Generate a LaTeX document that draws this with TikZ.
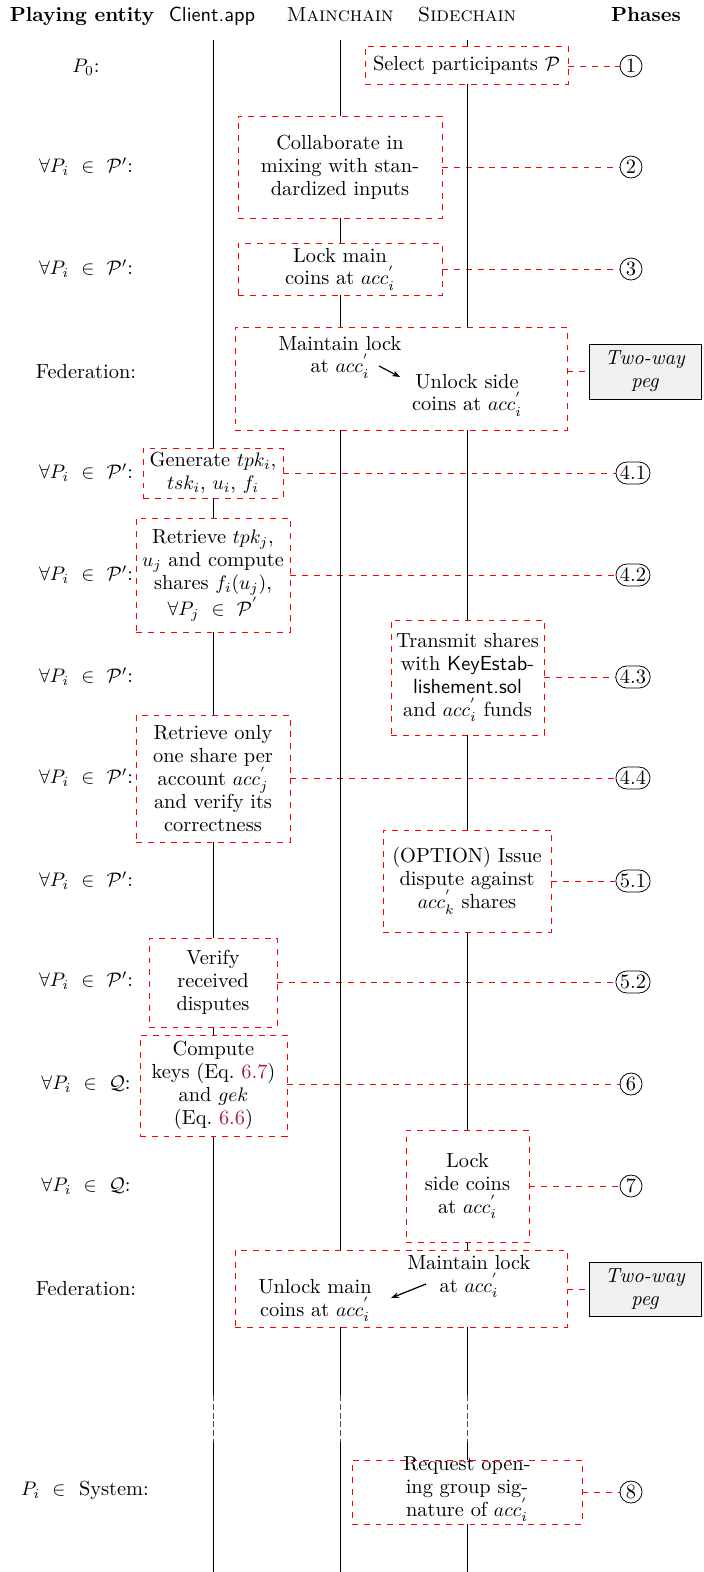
\documentclass[tikz,border=0pt]{standalone}
\usetikzlibrary{shapes.misc,arrows.meta}
\definecolor{refred}{rgb}{0.63,0.13,0.25}
\definecolor{peggray}{rgb}{0.94,0.94,0.94}
\newcommand\basefont{\fontsize{10.4pt}{11.7pt}\selectfont}
\newcommand\accp[1]{acc^{'}_{#1}}
\pgfdeclarelayer{bg}
\pgfdeclarelayer{mid}
\pgfsetlayers{bg,mid,main}
\begin{document}
\begin{tikzpicture}[x=0.5102pt,y=-0.5102pt, font=\basefont,
  lane/.style={line width=0.5pt},
  act/.style={draw=red, dashed, fill=white, align=center, inner sep=1pt, line width=0.4pt},
  link/.style={draw=red, dashed, line width=0.4pt},
  ph/.style={circle, draw, inner sep=0.5pt, minimum size=22*0.5102pt, line width=0.4pt},
  phl/.style={rounded rectangle, draw, inner sep=0.8pt, minimum height=22*0.5102pt, line width=0.4pt},
  peg/.style={draw, fill=peggray, align=center, font=\basefont\itshape, line width=0.5pt},
  who/.style={anchor=center},
  txt/.style={align=center, inner sep=0pt},
  sz/.style 2 args={minimum width=#1*0.5102pt, minimum height=#2*0.5102pt}]
\useasboundingbox (0,0) rectangle (703,1572);

% headers
\node[font=\basefont\bfseries, anchor=base] (hPE) at (82,21) {Playing entity};
\node[font=\basefont\sffamily, anchor=base] (hC) at (212,21) {Client.app};
\node[font=\basefont\scshape, anchor=base] (hM) at (340,21) {Mainchain};
\node[font=\basefont\scshape, anchor=base] (hS) at (467,21) {Sidechain};
\node[font=\basefont\bfseries, anchor=base] (hP) at (646,21) {Phases};

% entities
\node[who] (w1) at (86,67) {$P_0$:};
\node[who] (w2) at (86,167) {$\forall P_i~\in~\mathcal{P}'$:};
\node[who] (w3) at (86,269) {$\forall P_i~\in~\mathcal{P}'$:};
\node[who] (w4) at (86,372) {Federation:};
\node[who] (w5) at (86,473) {$\forall P_i~\in~\mathcal{P}'$:};
\node[who] (w6) at (86,575) {$\forall P_i~\in~\mathcal{P}'$:};
\node[who] (w7) at (86,677) {$\forall P_i~\in~\mathcal{P}'$:};
\node[who] (w8) at (86,778) {$\forall P_i~\in~\mathcal{P}'$:};
\node[who] (w9) at (86,881) {$\forall P_i~\in~\mathcal{P}'$:};
\node[who] (w10) at (86,981) {$\forall P_i~\in~\mathcal{P}'$:};
\node[who] (w11) at (86,1084) {$\forall P_i~\in~\mathcal{Q}$:};
\node[who] (w12) at (86,1186) {$\forall P_i~\in~\mathcal{Q}$:};
\node[who] (w13) at (86,1289) {Federation:};
\node[who] (w14) at (85,1490) {$P_i~\in~$ System:};

% boxes
\node[act, sz={203}{38}] (b1) at (466.5,65) {Select participants $\mathcal{P}$};
\node[act, sz={204}{102}] (b2) at (340,167) {Collaborate in\\mixing with stan-\\dardized inputs};
\node[act, sz={204}{52}] (b3) at (340,269) {Lock main\\coins at $\accp{i}$};
\node[act, sz={332}{103}] (f1) at (401,378.5) {};
\node[txt] (f1a) at (340,357) {Maintain lock\\at $\accp{i}$};
\node[txt] (f1b) at (467,395) {Unlock side\\coins at $\accp{i}$};
\coordinate (f1s) at (379,366);
\coordinate (f1e) at (400,377);
\node[act, sz={140}{50}] (b5) at (213,473) {Generate $tpk_i$,\\$tsk_i$, $u_i$, $f_i$};
\node[act, sz={154}{114}] (b6) at (213,575) {Retrieve $tpk_j$,\\$u_j$ and compute\\shares $f_i(u_j)$,\\$\forall P_j~\in~\mathcal{P}^{'}$};
\node[act, sz={153}{115}] (b7) at (467.5,677.5) {Transmit shares\\with {\sffamily KeyEstab-}\\{\sffamily lishement.sol}\\and $\accp{i}$ funds};
\node[act, sz={154}{127}] (b8) at (213,778.5) {Retrieve only\\one share per\\account $\accp{j}$\\and verify its\\correctness};
\node[act, sz={168}{102}] (b9) at (467,881) {(OPTION) Issue\\dispute against\\$\accp{k}$ shares};
\node[act, sz={128}{89}] (b10) at (213,982.5) {Verify\\received\\disputes};
\node[act, sz={147}{101}] (b11) at (213.5,1085.5) {Compute\\keys (Eq.~\textcolor{refred}{6.7})\\and $gek$\\(Eq.~\textcolor{refred}{6.6})};
\node[act, sz={123}{112}] (b12) at (467.5,1186) {Lock\\side coins\\at $\accp{i}$};
\node[act, sz={332}{77}] (f2) at (401,1288.5) {};
\node[txt] (f2a) at (315,1300) {Unlock main\\coins at $\accp{i}$};
\node[txt] (f2b) at (469,1276) {Maintain lock\\at $\accp{i}$};
\coordinate (f2s) at (426,1284);
\coordinate (f2e) at (391,1298);
\node[act, sz={230}{64}] (b14) at (467,1492) {};
\node[txt] (b14t) at (467,1489) {Request open-\\ing group sig-\\nature of $\accp{i}$};

% pegs
\node[peg, sz={112}{55}] (g1) at (645,371.5) {Two-way\\peg};
\node[peg, sz={112}{53}] (g2) at (645,1289.5) {Two-way\\peg};

% phases
\node[ph] (p1) at (631,66) {1};
\node[ph] (p2) at (631,167) {2};
\node[ph] (p3) at (631,269) {3};
\node[phl] (p41) at (633,473) {4.1};
\node[phl] (p42) at (633,575) {4.2};
\node[phl] (p43) at (633,677) {4.3};
\node[phl] (p44) at (633,778) {4.4};
\node[phl] (p51) at (633,881) {5.1};
\node[phl] (p52) at (633,982) {5.2};
\node[ph] (p6) at (631,1084) {6};
\node[ph] (p7) at (631,1186) {7};
\node[ph] (p8) at (631,1492) {8};

% arrows in federation boxes
\draw[-{Stealth[length=4pt,width=3pt]}, line width=0.6pt] (f1s) -- (f1e);
\draw[-{Stealth[length=4pt,width=3pt]}, line width=0.6pt] (f2s) -- (f2e);

% lanes
\coordinate (cT) at (213,40);
\coordinate (mT) at (340,40);
\coordinate (sT) at (467,40);
\coordinate (cA) at (213,1395);
\coordinate (mA) at (340,1395);
\coordinate (sA) at (467,1395);
\coordinate (cB) at (213,1442);
\coordinate (mB) at (340,1442);
\coordinate (sB) at (467,1442);
\coordinate (cE) at (213,1572);
\coordinate (mE) at (340,1572);
\coordinate (sE) at (467,1572);
\begin{pgfonlayer}{mid}
\draw[lane] (cT) -- (cA);
\draw[lane] (mT) -- (mA);
\draw[lane] (sT) -- (sA);
\draw[lane, dash pattern=on 3pt off 1.5pt, draw=black!70] (cA) -- (cB);
\draw[lane, dash pattern=on 3pt off 1.5pt, draw=black!70] (mA) -- (mB);
\draw[lane, dash pattern=on 3pt off 1.5pt, draw=black!70] (sA) -- (sB);
\draw[lane] (cB) -- (cE);
\draw[lane] (mB) -- (mE);
\draw[lane] (sB) -- (sE);
\end{pgfonlayer}

% links
\begin{pgfonlayer}{bg}
\draw[link] (b1.east |- p1.west) -- (p1.west);
\draw[link] (b2.east |- p2.west) -- (p2.west);
\draw[link] (b3.east |- p3.west) -- (p3.west);
\draw[link] (f1.east |- g1.west) -- (g1.west);
\draw[link] (b5.east |- p41.west) -- (p41.west);
\draw[link] (b6.east |- p42.west) -- (p42.west);
\draw[link] (b7.east |- p43.west) -- (p43.west);
\draw[link] (b8.east |- p44.west) -- (p44.west);
\draw[link] (b9.east |- p51.west) -- (p51.west);
\draw[link] (b10.east |- p52.west) -- (p52.west);
\draw[link] (b11.east |- p6.west) -- (p6.west);
\draw[link] (b12.east |- p7.west) -- (p7.west);
\draw[link] (f2.east |- g2.west) -- (g2.west);
\draw[link] (b14.east |- p8.west) -- (p8.west);
\end{pgfonlayer}
\end{tikzpicture}
\end{document}
